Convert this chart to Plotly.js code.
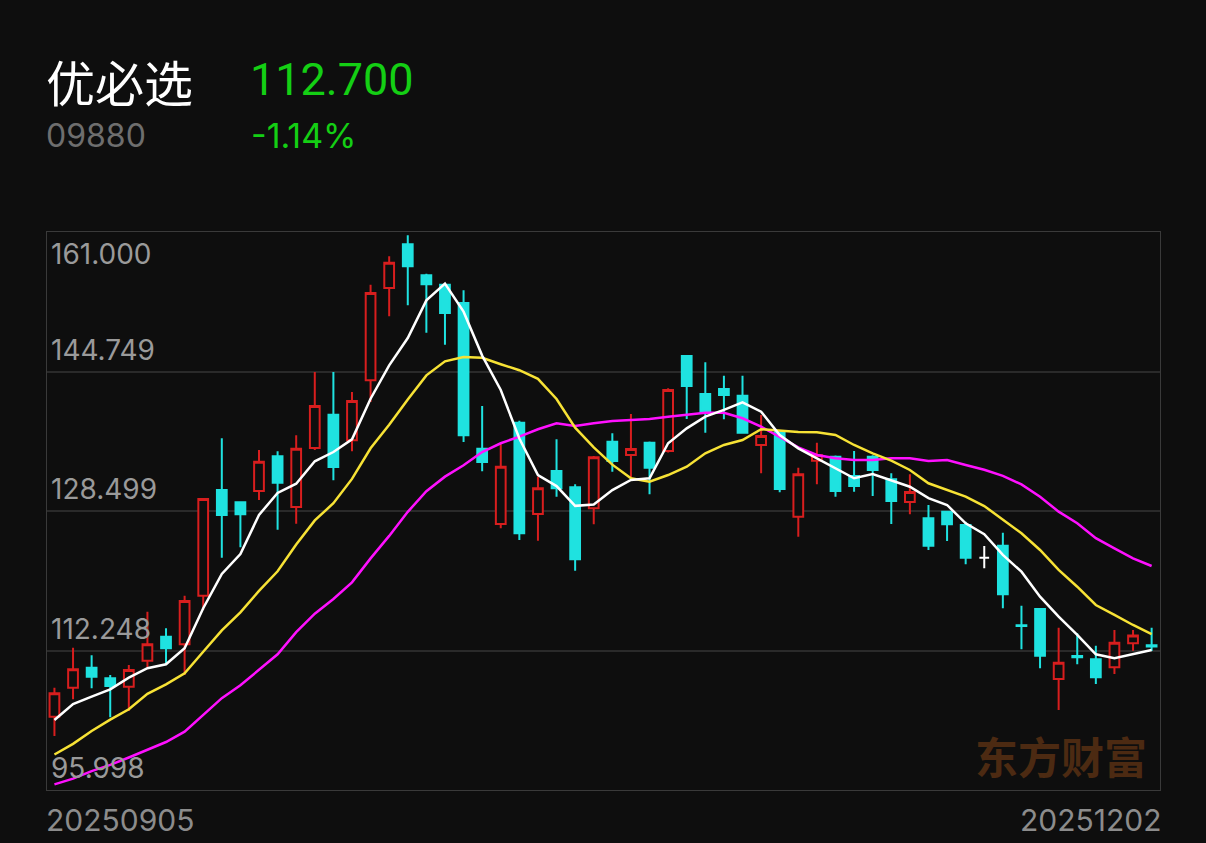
<!DOCTYPE html>
<html>
<head>
<meta charset="utf-8">
<script src="https://cdn.plot.ly/plotly-3.0.1.min.js"></script>
<style>
  html, body { margin: 0; padding: 0; background: #0e0e0e; }
  #chart { width: 1206px; height: 843px; }
</style>
</head>
<body>
<div id="chart"></div>
<script>
// ---- data ----
const stockName = "优必选";
const stockCode = "09880";
const lastPrice = "112.700";
const changePct = "-1.14%";
const watermark = "东方财富";

const dates = [
  "20250905","20250908","20250909","20250910","20250911","20250912","20250915","20250916","20250917","20250918",
  "20250919","20250922","20250923","20250924","20250925","20250926","20250929","20250930","20251002","20251003",
  "20251006","20251008","20251009","20251010","20251013","20251014","20251015","20251016","20251017","20251020",
  "20251021","20251022","20251023","20251024","20251027","20251028","20251030","20251031","20251103","20251104",
  "20251105","20251106","20251107","20251110","20251111","20251112","20251113","20251114","20251117","20251118",
  "20251119","20251120","20251121","20251124","20251125","20251126","20251127","20251128","20251201","20251202"
];

const openP = [104.54,107.92,110.25,109.01,108.04,111.06,113.86,112.97,118.63,130.95,
  129.51,130.83,134.87,128.97,135.84,139.72,136.74,143.73,154.48,159.57,
  155.96,154.86,152.73,135.76,126.99,138.79,128.15,133.16,131.26,128.82,
  136.57,135.02,136.46,135.49,146.56,142.13,142.71,141.93,136.19,137.74,
  127.84,134.36,134.83,132.58,134.83,132.19,129.55,127.65,128.42,126.87,
  123.06,124.46,115.20,117.09,108.93,111.60,111.23,110.29,113.09,112.85];
const highP = [107.92,112.58,111.69,109.40,110.56,116.77,114.84,118.63,130.00,136.97,
  129.60,135.61,135.46,137.32,144.69,144.69,142.36,154.86,158.17,160.62,
  156.14,155.00,154.21,140.73,136.27,139.00,132.50,136.85,131.61,134.90,
  137.55,139.80,136.60,142.79,146.67,145.82,144.26,144.26,139.68,137.90,
  133.54,136.46,134.95,135.49,135.00,132.89,132.78,129.20,128.50,127.25,
  124.42,125.97,117.47,117.20,114.91,114.25,112.81,114.64,114.64,114.90];
const lowP = [102.29,106.57,107.85,104.47,105.20,110.29,110.64,109.40,116.97,123.06,
  124.27,129.78,126.32,127.02,135.60,132.08,135.46,141.20,151.18,152.46,
  149.27,147.87,136.54,133.13,126.49,125.12,125.04,130.17,121.55,126.95,
  133.08,132.31,130.45,135.30,139.22,137.62,139.18,137.50,132.89,130.68,
  125.51,131.61,130.17,130.75,130.25,126.99,128.12,123.96,125.01,122.29,
  121.83,117.17,112.39,110.18,105.32,110.64,108.35,109.51,112.23,112.20];
const closeP = [107.27,110.06,109.20,108.12,109.98,112.97,112.51,118.02,129.90,128.04,
  128.12,134.24,131.80,135.76,140.73,133.63,141.31,153.89,157.43,157.00,
  154.91,151.56,137.32,134.21,133.66,125.90,131.14,131.14,122.87,134.76,
  134.33,135.72,133.55,142.60,143.06,140.07,142.01,137.62,137.24,131.06,
  132.78,135.02,130.83,131.41,133.28,129.67,130.71,124.46,126.95,123.06,
  123.06,118.80,115.10,111.65,110.83,111.45,109.13,113.16,114.00,112.70];

const ma5 = [104.16,106.02,106.87,107.73,109.08,110.18,110.64,112.51,117.17,121.16,
  123.49,128.04,130.60,131.68,134.29,135.37,136.85,141.58,145.47,148.65,
  153.04,154.98,151.72,146.60,142.60,136.94,132.67,131.40,129.10,129.25,
  130.94,132.11,132.31,136.39,138.13,139.49,140.27,141.16,140.07,137.35,
  135.80,134.64,133.47,132.31,132.81,132.11,131.33,130.00,129.20,127.07,
  125.79,123.38,121.43,118.52,116.19,114.06,111.81,111.34,111.84,112.31];
const ma10 = [100.13,101.37,102.87,104.20,105.40,107.20,108.30,109.60,112.10,114.60,
  116.70,119.20,121.48,124.60,127.40,129.40,132.24,135.80,138.55,141.50,
  144.30,145.93,146.44,146.35,145.60,144.90,143.90,141.55,138.20,135.90,
  133.90,132.31,131.92,132.69,133.66,135.22,136.19,136.77,138.02,137.82,
  137.70,137.66,137.35,136.19,135.22,134.36,133.28,131.73,130.95,130.17,
  129.08,127.45,125.90,123.96,121.63,119.68,117.55,116.39,115.22,114.17];
const ma20 = [96.65,97.33,98.19,98.92,99.78,100.64,101.59,102.79,104.72,106.70,
  108.20,110.00,111.81,114.39,116.54,118.25,120.19,122.98,125.60,128.40,
  130.80,132.50,133.82,135.37,136.39,137.16,138.02,138.72,138.40,138.72,
  138.99,139.10,139.22,139.49,139.68,139.95,139.95,139.30,138.33,137.16,
  135.92,135.02,134.64,134.44,134.44,134.64,134.64,134.33,134.44,133.85,
  133.30,132.60,131.60,130.17,128.42,127.07,125.33,124.15,122.99,122.09];

const yTickVals = [161.000, 144.749, 128.499, 112.248, 95.998];
const yTickText = ["161.000", "144.749", "128.499", "112.248", "95.998"];

// ---- styles ----
const BG = "#0e0e0e";
const RED = "#d81e1e";
const CYAN = "#1fe2e0";
const GREEN = "#14cf14";
const FONT = "Roboto, 'Liberation Sans', sans-serif";
const FONT2 = "Inter, Roboto, sans-serif";
const CJK = "'Noto Sans CJK SC', sans-serif";

function subset(pred) {
  const o = {x: [], open: [], high: [], low: [], close: []};
  dates.forEach((d, i) => {
    if (pred(i)) {
      o.x.push(d); o.open.push(openP[i]); o.high.push(highP[i]);
      o.low.push(lowP[i]); o.close.push(closeP[i]);
    }
  });
  return o;
}
const moving = subset(i => closeP[i] !== openP[i]);
const flat = subset(i => closeP[i] === openP[i]);

const traces = [
  Object.assign({
    type: "candlestick",
    increasing: {line: {color: RED, width: 2}, fillcolor: BG},
    decreasing: {line: {color: CYAN, width: 2}, fillcolor: CYAN},
    whiskerwidth: 0,
    hoverinfo: "skip",
    showlegend: false
  }, moving),
  Object.assign({
    type: "candlestick",
    increasing: {line: {color: "#ffffff", width: 2}, fillcolor: "#ffffff"},
    decreasing: {line: {color: "#ffffff", width: 2}, fillcolor: "#ffffff"},
    whiskerwidth: 0,
    hoverinfo: "skip",
    showlegend: false
  }, flat),
  {type: "scatter", mode: "lines", x: dates, y: ma20, line: {color: "#ff10ff", width: 2.5}, hoverinfo: "skip", showlegend: false},
  {type: "scatter", mode: "lines", x: dates, y: ma10, line: {color: "#f7e235", width: 2.5}, hoverinfo: "skip", showlegend: false},
  {type: "scatter", mode: "lines", x: dates, y: ma5, line: {color: "#ffffff", width: 2.5}, hoverinfo: "skip", showlegend: false}
];

const annotations = [];
// header
annotations.push({xref: "paper", yref: "paper", x: 0, y: (790 - 80) / 558, xanchor: "left", yanchor: "middle", xshift: -3,
  text: stockName, showarrow: false, font: {family: CJK, size: 49, color: "#ffffff"}});
annotations.push({xref: "paper", yref: "paper", x: (252 - 47) / 1113, y: (790 - 79) / 558, xanchor: "left", yanchor: "middle", xshift: -4,
  text: lastPrice, showarrow: false, font: {family: FONT, size: 45, color: GREEN}});
annotations.push({xref: "paper", yref: "paper", x: 0, y: (790 - 136) / 558, xanchor: "left", yanchor: "middle", xshift: -3,
  text: stockCode, showarrow: false, font: {family: FONT2, size: 32, color: "#6e6e6e"}});
annotations.push({xref: "paper", yref: "paper", x: (252 - 47) / 1113, y: (790 - 136) / 558, xanchor: "left", yanchor: "middle", xshift: -3,
  text: changePct, showarrow: false, font: {family: FONT2, size: 34, color: GREEN}});
// y labels
yTickVals.forEach((v, i) => {
  annotations.push({xref: "paper", yref: "y", x: 0, y: v, xanchor: "left",
    yanchor: i === 0 ? "top" : "bottom", xshift: 2, yshift: i === 0 ? -3 : 3,
    text: yTickText[i], showarrow: false, font: {family: FONT2, size: 28, color: "#9a9a9a"}});
});
// date labels
annotations.push({xref: "paper", yref: "paper", x: 0, y: (790 - 820) / 558, xanchor: "left", yanchor: "middle", xshift: -3,
  text: dates[0], showarrow: false, font: {family: FONT2, size: 30, color: "#8c8c8c"}});
annotations.push({xref: "paper", yref: "paper", x: 1, y: (790 - 820) / 558, xanchor: "right", yanchor: "middle", xshift: 3,
  text: dates[dates.length - 1], showarrow: false, font: {family: FONT2, size: 30, color: "#8c8c8c"}});
// watermark
annotations.push({xref: "paper", yref: "paper", x: (1061 - 47) / 1113, y: (790 - 755) / 558, xanchor: "center", yanchor: "middle",
  text: "<b>" + watermark + "</b>", showarrow: false, font: {family: CJK, size: 43, color: "#4c2a12"}});

const layout = {
  width: 1206, height: 843,
  paper_bgcolor: BG, plot_bgcolor: BG,
  margin: {l: 47, r: 46, t: 232, b: 53, pad: 0},
  showlegend: false,
  boxgap: 0.25,
  xaxis: {
    type: "category", categoryorder: "array", categoryarray: dates,
    range: [-0.4, dates.length - 0.55],
    rangeslider: {visible: false},
    showgrid: false, zeroline: false, showticklabels: false, ticks: "",
    showline: true, mirror: true, linecolor: "#3a3a3a", linewidth: 1,
    fixedrange: true
  },
  yaxis: {
    range: [yTickVals[4], yTickVals[0]],
    tickvals: yTickVals.slice(1, 4),
    showticklabels: false, ticks: "",
    showgrid: true, gridcolor: "#2a2a2a", gridwidth: 2,
    zeroline: false,
    showline: true, mirror: true, linecolor: "#3a3a3a", linewidth: 1,
    fixedrange: true
  },
  annotations: annotations
};

Plotly.newPlot("chart", traces, layout, {displayModeBar: false, staticPlot: true});
</script>
</body>
</html>
